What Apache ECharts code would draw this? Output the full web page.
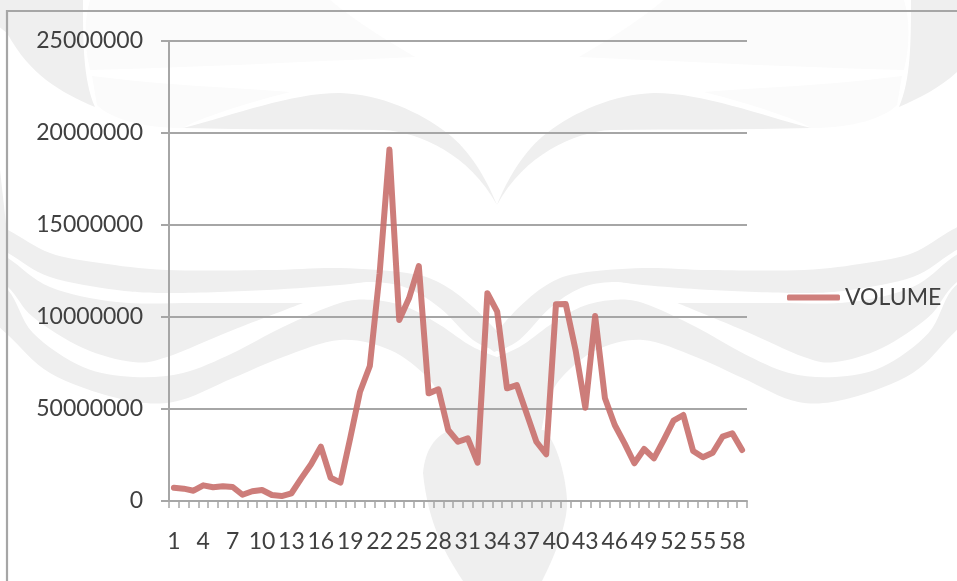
<!DOCTYPE html>
<html>
<head>
<meta charset="utf-8">
<style>html,body{margin:0;padding:0;background:#fff}#c{width:957px;height:581px}</style>
<script src="https://cdn.jsdelivr.net/npm/echarts@6/dist/echarts.min.js"></script>
</head>
<body>
<div id="c"></div>
<script>
const categories = [1,2,3,4,5,6,7,8,9,10,11,12,13,14,15,16,17,18,19,20,21,22,23,24,25,26,27,28,29,30,31,32,33,34,35,36,37,38,39,40,41,42,43,44,45,46,47,48,49,50,51,52,53,54,55,56,57,58,59];
const volume = [720000,670000,560000,850000,745000,800000,760000,340000,530000,600000,325000,270000,420000,1230000,1995000,2950000,1265000,995000,3420000,5940000,7340000,12375000,19100000,9840000,11015000,12770000,5850000,6070000,3860000,3220000,3405000,2080000,11290000,10290000,6125000,6300000,4765000,3220000,2540000,10690000,10700000,8205000,5070000,10050000,5580000,4130000,3135000,2050000,2825000,2320000,3315000,4365000,4675000,2715000,2375000,2625000,3495000,3680000,2770000];
const yTickLabels = ['0','50000000','10000000','15000000','20000000','25000000'];

const FONT = 'Lato';
const INK = '#404040';
const RULE = '#a6a6a6';
const WM = '#efefef';
const WM_LIGHT = '#fbfbfb';

// Background watermark outlines (decoration only): each edge is a smooth run of points.
function edge(p){
  let s = '';
  for(let i=0;i<p.length-1;i++){
    const a=p[Math.max(i-1,0)],b=p[i],c=p[i+1],d=p[Math.min(i+2,p.length-1)];
    s += ` C${b[0]+(c[0]-a[0])/6} ${b[1]+(c[1]-a[1])/6} ${c[0]-(d[0]-b[0])/6} ${c[1]-(d[1]-b[1])/6} ${c[0]} ${c[1]}`;
  }
  return s;
}
function outline(...edges){
  return edges.map((e,i)=>(i? `L${e[0][0]} ${e[0][1]}` : `M${e[0][0]} ${e[0][1]}`)+edge(e)).join(' ')+' Z';
}
const upperMark = [
  {d:'M-60 0 L83 0 C83 40 83 80 95 107 C60 92 30 75 7 33 L-60 -20 Z', f:WM},
  {d:'M90 0 L330 0 C360 25 390 42 415 57 C300 62 180 68 90 70 C84 45 84 20 90 0 Z', f:WM_LIGHT},
  {d:'M92 76 C160 85 240 88 290 92 C240 105 200 118 183 128 C140 128 110 118 97 105 Z', f:WM_LIGHT},
  {d:'M497 205 C487 180 470 150 447 133 C420 112 380 94 340 93 C290 93 235 115 183 128 C250 130 320 129 383 130 C420 132 470 155 497 205 Z', f:WM}
];
const bandMark = [
  {d:outline(
    [[-30,212],[8,230],[50,253],[100,263],[167,270],[267,270],[340,268],[407,273],[440,283],[473,307],[510,345]],
    [[500,352],[473,340],[440,308],[407,288],[373,282],[340,285],[267,290],[173,293],[117,290],[50,277],[8,253],[-30,232]]
  ), f:WM},
  {d:outline(
    [[-30,236],[8,258],[50,287],[117,302],[200,303],[303,303]],
    [[303,303],[233,330],[167,357],[133,362],[83,348],[33,317],[8,287],[-30,258]]
  ), f:WM},
  {d:outline(
    [[-30,262],[8,290],[33,333],[83,367],[133,377],[183,373],[233,353],[283,327],[340,303],[373,300],[407,307],[440,325],[473,347],[510,362]],
    [[510,440],[450,434]],
    [[450,434],[442,402],[427,377],[390,350],[340,340],[283,357],[233,378],[173,402],[117,398],[50,373],[8,335],[-30,300]]
  ), f:WM}
];
const leftSliver = 'M0 170 L7 233 L7 330 L0 320 Z';
const blob = 'M423 473 C425 450 435 436 450 430 L544 430 C560 445 568 490 567 507 C565 530 555 555 542 581 L463 581 C447 557 428 525 423 473 Z';

const toEl = s => ({type:'path', shape:{pathData:s.d}, style:{fill:s.f}});

const chart = echarts.init(document.getElementById('c'), null, {renderer:'canvas'});
chart.setOption({
  animation:false,
  backgroundColor:'#ffffff',
  graphic:[
    {type:'rect', z:-1, silent:true, shape:{x:7,y:11,width:1100,height:800}, style:{fill:'none',stroke:RULE,lineWidth:2.2}}
  ],
  grid:{left:169,right:210,top:41,bottom:80,containLabel:false},
  legend:{
    show:true, left:787, top:286, orient:'vertical', padding:0,
    itemWidth:53, itemHeight:6, itemGap:0,
    icon:'roundRect',
    data:['VOLUME'],
    textStyle:{fontFamily:FONT,fontSize:23,color:INK}
  },
  xAxis:{
    type:'category', data:categories, boundaryGap:true,
    axisLine:{show:true,lineStyle:{color:RULE,width:2}},
    axisTick:{show:true,interval:0,length:7,alignWithLabel:false,lineStyle:{color:RULE,width:1.5}},
    axisLabel:{interval:2,margin:29,hideOverlap:false,fontFamily:FONT,fontSize:23,color:INK},
    splitLine:{show:false}
  },
  yAxis:{
    type:'value', min:0, max:25000000, interval:5000000,
    axisLine:{show:true,lineStyle:{color:RULE,width:2}},
    axisTick:{show:true,length:8,lineStyle:{color:RULE,width:2}},
    axisLabel:{margin:26,fontFamily:FONT,fontSize:23,color:INK,
      formatter:(v)=>yTickLabels[Math.round(v/5000000)]},
    splitLine:{show:true,lineStyle:{color:RULE,width:2}}
  },
  series:[{
    name:'watermark', type:'custom', coordinateSystem:'none', z:-5, silent:true,
    data:[0], clip:false, tooltip:{show:false},
    renderItem:()=>({type:'group', silent:true, children:[
      {type:'group', children:upperMark.map(toEl)},
      {type:'group', x:994, scaleX:-1, children:upperMark.map(toEl)},
      {type:'group', children:bandMark.map(toEl)},
      {type:'group', x:959.2, scaleX:-0.93, children:bandMark.map(toEl)},
      {type:'path', shape:{pathData:leftSliver}, style:{fill:WM}},
      {type:'path', shape:{pathData:blob}, style:{fill:WM}}
    ]})
  },{
    name:'VOLUME', type:'line', data:volume, symbol:'none', smooth:false,
    lineStyle:{color:'#c86f6b',width:6,opacity:.9,cap:'round',join:'round'},
    itemStyle:{color:'#cf7f7c'},
    z:3
  }]
});
</script>
</body>
</html>
